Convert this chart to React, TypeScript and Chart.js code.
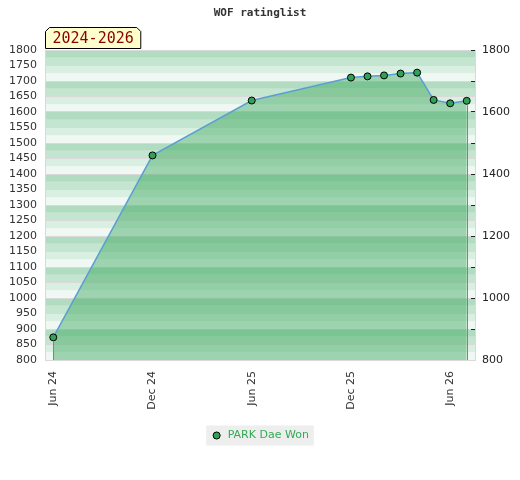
import React, { useEffect, useRef } from 'react';
import { Chart, registerables } from 'chart.js';

Chart.register(...registerables);

const TITLE = 'WOF ratinglist';
const PERIOD_LABEL = '2024-2026';
const SERIES_LABEL = 'PARK Dae Won';
// months counted from Jun 2024
const MONTHS = [0, 6, 12, 18, 19, 20, 21, 22, 23, 24, 25];
const RATINGS = [873, 1460, 1637, 1711, 1715, 1718, 1724, 1727, 1639, 1628, 1636];
const X_TICKS = [0, 6, 12, 18, 24];
const X_TICK_LABELS = ['Jun 24', 'Dec 24', 'Jun 25', 'Dec 25', 'Jun 26'];
const X_MIN = -0.5;
const X_MAX = 25.5;
const Y_MIN = 800;
const Y_MAX = 1800;
const Y_LEFT_STEP = 50;
const Y_RIGHT_STEP = 100;
const Y_RIGHT_LABEL_STEP = 200;
const BAND_STEP = 25;
const BAND_COLORS = ['#eff8f2', '#d9efe2', '#c4e5cf', '#b1dcc1'];

const FONT = '"DejaVu Sans", sans-serif';

const bandPlugin = {
  id: 'bands',
  beforeDraw(chart: any) {
    const { ctx, chartArea, scales } = chart;
    const y = scales.y;
    ctx.save();
    for (let v = Y_MIN; v < Y_MAX; v += BAND_STEP) {
      const idx = Math.floor(((v - Y_MIN) % 100) / BAND_STEP);
      const y0 = y.getPixelForValue(v);
      const y1 = y.getPixelForValue(v + BAND_STEP);
      ctx.fillStyle = BAND_COLORS[idx];
      ctx.fillRect(chartArea.left, y1, chartArea.right - chartArea.left, y0 - y1);
    }
    const lg = chart.legend;
    if (lg && lg.legendHitBoxes && lg.legendHitBoxes.length) {
      const hb = lg.legendHitBoxes[0];
      const cy = hb.top + hb.height / 2;
      ctx.fillStyle = '#eeeeee';
      ctx.fillRect(hb.left - 5, cy - 10, hb.width + 10, 20);
    }
    ctx.restore();
  },
};

const edgePlugin = {
  id: 'edges',
  afterDatasetsDraw(chart: any) {
    const { ctx, chartArea } = chart;
    const meta = chart.getDatasetMeta(0);
    const pts = [meta.data[0], meta.data[meta.data.length - 1]];
    ctx.save();
    ctx.strokeStyle = '#2fb84f';
    ctx.lineWidth = 1;
    for (const p of pts) {
      const x = Math.round(p.x) + 0.5;
      ctx.beginPath();
      ctx.moveTo(x, p.y + 4.5);
      ctx.lineTo(x, chartArea.bottom);
      ctx.stroke();
    }
    ctx.restore();
  },
};

const periodPlugin = {
  id: 'period',
  afterDraw(chart: any) {
    const { ctx, chartArea } = chart;
    ctx.save();
    ctx.font = '15px "DejaVu Sans Mono", monospace';
    const tw = ctx.measureText(PERIOD_LABEL).width;
    const left = chartArea.left + 0.5;
    const right = left + tw + 14;
    const bottom = chartArea.top - 1.5;
    const top = bottom - 21;
    const c = 4;
    ctx.beginPath();
    ctx.moveTo(left, bottom);
    ctx.lineTo(left, top + c);
    ctx.lineTo(left + c, top);
    ctx.lineTo(right - c, top);
    ctx.lineTo(right, top + c);
    ctx.lineTo(right, bottom);
    ctx.closePath();
    ctx.fillStyle = '#ffffcc';
    ctx.fill();
    ctx.strokeStyle = '#000000';
    ctx.lineWidth = 1;
    ctx.stroke();
    ctx.fillStyle = '#8b0000';
    ctx.textBaseline = 'middle';
    ctx.textAlign = 'left';
    ctx.fillText(PERIOD_LABEL, left + 7, (top + bottom) / 2 + 1);
    ctx.restore();
  },
};

export default function App() {
  const ref = useRef<HTMLCanvasElement | null>(null);

  useEffect(() => {
    document.body.style.margin = '0';
    if (!ref.current) return;
    const chart = new Chart(ref.current, {
      type: 'line',
      data: {
        datasets: [
          {
            label: SERIES_LABEL,
            data: MONTHS.map((m, i) => ({ x: m, y: RATINGS[i] })),
            borderColor: '#5a9fd4',
            borderWidth: 1.5,
            backgroundColor: 'rgba(65,169,98,0.47)',
            fill: 'start',
            tension: 0,
            pointRadius: 3.5,
            pointBorderWidth: 1,
            pointBackgroundColor: '#33a058',
            pointBorderColor: '#000000',
          },
        ],
      },
      options: {
        animation: false,
        responsive: true,
        maintainAspectRatio: false,
        layout: { padding: { left: 0, right: 0, top: 0, bottom: 29 } },
        scales: {
          x: {
            type: 'linear',
            min: X_MIN,
            max: X_MAX,
            afterBuildTicks(scale: any) {
              scale.ticks = X_TICKS.map((value) => ({ value }));
            },
            afterFit(scale: any) {
              scale.height = 60;
            },
            grid: { display: false, drawTicks: false },
            border: { display: true, color: '#d9d9d9' },
            ticks: {
              autoSkip: false,
              minRotation: 90,
              maxRotation: 90,
              padding: 11,
              color: '#333333',
              font: { family: FONT, size: 11 },
              callback: (v: any) => {
                const i = X_TICKS.indexOf(Number(v));
                return i >= 0 ? X_TICK_LABELS[i] : '';
              },
            },
          },
          y: {
            type: 'linear',
            position: 'left',
            min: Y_MIN,
            max: Y_MAX,
            afterFit(scale: any) {
              scale.width = 45;
            },
            grid: { color: '#d9d9d9', drawTicks: false },
            border: { display: true, color: '#d9d9d9' },
            ticks: {
              stepSize: Y_LEFT_STEP,
              autoSkip: false,
              padding: 8,
              color: '#333333',
              font: { family: FONT, size: 11 },
              callback: (v: any) => String(v),
            },
          },
          y2: {
            type: 'linear',
            position: 'right',
            min: Y_MIN,
            max: Y_MAX,
            afterFit(scale: any) {
              scale.width = 45;
            },
            grid: {
              drawOnChartArea: false,
              drawTicks: true,
              tickLength: -4,
              color: '#222222',
            },
            border: { display: true, color: '#d9d9d9' },
            ticks: {
              stepSize: Y_RIGHT_STEP,
              autoSkip: false,
              padding: 11,
              color: '#222222',
              font: { family: FONT, size: 11 },
              callback: (v: any) => (Number(v) % Y_RIGHT_LABEL_STEP === 0 ? String(v) : ''),
            },
          },
        },
        plugins: {
          title: {
            display: true,
            text: TITLE,
            color: '#333333',
            font: { family: '"DejaVu Sans Mono", monospace', size: 11, weight: 'bold' },
            padding: { top: 7, bottom: 29.8 },
          },
          legend: {
            display: true,
            position: 'bottom',
            labels: {
              usePointStyle: true,
              pointStyle: 'circle',
              boxWidth: 18,
              boxHeight: 5,
              padding: 10,
              color: '#33aa55',
              font: { family: FONT, size: 11 },
            },
          },
          tooltip: { enabled: false },
        },
      },
      plugins: [bandPlugin, edgePlugin, periodPlugin],
    });
    return () => chart.destroy();
  }, []);

  return (
    <div style={{ width: 520, height: 480, position: 'relative' }}>
      <canvas ref={ref} />
    </div>
  );
}
